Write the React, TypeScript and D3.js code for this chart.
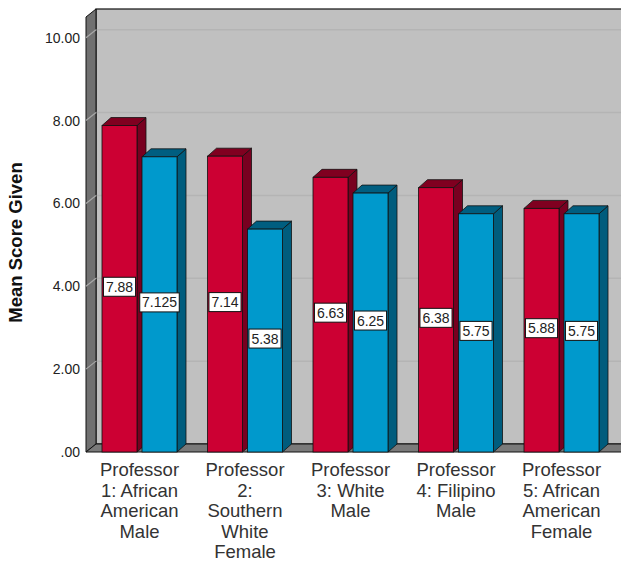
import React from 'react';
import * as d3 from 'd3';

const categories = [
  ['Professor', '1: African', 'American', 'Male'],
  ['Professor', '2:', 'Southern', 'White', 'Female'],
  ['Professor', '3: White', 'Male'],
  ['Professor', '4: Filipino', 'Male'],
  ['Professor', '5: African', 'American', 'Female'],
];
const seriesA = [7.88, 7.14, 6.63, 6.38, 5.88];
const seriesB = [7.125, 5.38, 6.25, 5.75, 5.75];
const seriesLabelsA = ['7.88', '7.14', '6.63', '6.38', '5.88'];
const seriesLabelsB = ['7.125', '5.38', '6.25', '5.75', '5.75'];
const yTicks = [0, 2, 4, 6, 8, 10];

const W = 621;
const H = 563;
const FONT = 'Arial, "Liberation Sans", sans-serif';

// 3d offsets
const WDX = 10;
const WDY = -8;
const BDX = 9;
const BDY = -8;

const colors = {
  a: { front: '#CC0033', top: '#800020', side: '#780020' },
  b: { front: '#0099CC', top: '#005E80', side: '#005C7D' },
};

export default function App() {
  const x0 = 86;
  const x1 = 613.5;
  const y = d3.scaleLinear().domain([0, 10.5]).range([452, 17]);
  const xBand = d3
    .scaleBand<number>()
    .domain(categories.map((_, i) => i))
    .range([x0, x1])
    .paddingInner(0)
    .paddingOuter(0);
  const inner = d3.scaleBand<string>().domain(['a', 'b']).range([16, 91]).paddingInner(0.125);

  const yTop = y(10.5);
  const yBase = y(0);
  const fmt = (v: number) => (v === 0 ? '.00' : d3.format('.2f')(v));

  const bars: { key: string; x: number; v: number; label: string; c: typeof colors.a }[] = [];
  categories.forEach((_, i) => {
    bars.push({ key: 'a' + i, x: (xBand(i) as number) + (inner('a') as number), v: seriesA[i], label: seriesLabelsA[i], c: colors.a });
    bars.push({ key: 'b' + i, x: (xBand(i) as number) + (inner('b') as number), v: seriesB[i], label: seriesLabelsB[i], c: colors.b });
  });
  const bw = inner.bandwidth();

  return (
    <svg width={W} height={H} style={{ position: 'absolute', left: 0, top: 0, background: '#fff' }}>
      {/* back wall */}
      <rect x={x0 + WDX} y={yTop + WDY} width={x1 - x0 + 20} height={yBase - yTop} fill="#C0C0C0" stroke="#111" strokeWidth={1.2} />
      {yTicks.filter((t) => t > 0).map((t) => (
        <line key={'g' + t} x1={x0 + WDX} x2={W} y1={y(t) + WDY} y2={y(t) + WDY} stroke="#B4B4B4" strokeWidth={1.5} />
      ))}
      {/* side wall */}
      <polygon
        points={`${x0},${yTop} ${x0 + WDX},${yTop + WDY} ${x0 + WDX},${yBase + WDY} ${x0},${yBase}`}
        fill="#707070"
        stroke="#111"
        strokeWidth={1}
      />
      {yTicks.filter((t) => t > 0).map((t) => (
        <line key={'s' + t} x1={x0} x2={x0 + WDX} y1={y(t)} y2={y(t) + WDY} stroke="#A8A8A8" strokeWidth={1.2} />
      ))}
      {/* floor */}
      <polygon
        points={`${x0},${yBase} ${x0 + WDX},${yBase + WDY} ${x1 + WDX + 20},${yBase + WDY} ${x1 + 20},${yBase}`}
        fill="#7A7A7A"
        stroke="#111"
        strokeWidth={1}
      />
      {/* bars */}
      {bars.map((b) => {
        const yt = y(b.v);
        return (
          <g key={b.key}>
            <polygon
              points={`${b.x + bw},${yt} ${b.x + bw + BDX},${yt + BDY} ${b.x + bw + BDX},${yBase + BDY} ${b.x + bw},${yBase}`}
              fill={b.c.side}
              stroke="#111"
              strokeWidth={0.8}
            />
            <polygon
              points={`${b.x},${yt} ${b.x + BDX},${yt + BDY} ${b.x + bw + BDX},${yt + BDY} ${b.x + bw},${yt}`}
              fill={b.c.top}
              stroke="#111"
              strokeWidth={0.8}
            />
            <rect x={b.x} y={yt} width={bw} height={yBase - yt} fill={b.c.front} stroke="#111" strokeWidth={0.8} />
          </g>
        );
      })}
      {/* value labels */}
      {bars.map((b) => {
        const yt = y(b.v);
        const cy = (yt + yBase) / 2 - 2;
        const tw = b.label.length * 7.4 + (b.label.includes('.') ? -3.5 : 0);
        const boxW = tw + 6;
        return (
          <g key={'l' + b.key}>
            <rect x={b.x + bw / 2 - boxW / 2} y={cy - 9.5} width={boxW} height={19} fill="#fff" stroke="#111" strokeWidth={1} />
            <text x={b.x + bw / 2} y={cy + 5} textAnchor="middle" fontFamily={FONT} fontSize={14} fill="#222">
              {b.label}
            </text>
          </g>
        );
      })}
      {/* y tick labels */}
      {yTicks.map((t) => (
        <text key={'t' + t} x={80} y={y(t) + 5} textAnchor="end" fontFamily={FONT} fontSize={14} fill="#222">
          {fmt(t)}
        </text>
      ))}
      {/* y title */}
      <text
        transform={`translate(22, ${(yTop + yBase) / 2 + 8}) rotate(-90)`}
        textAnchor="middle"
        fontFamily={FONT}
        fontSize={18.5}
        fontWeight="bold"
        fill="#111"
      >
        Mean Score Given
      </text>
      {/* category labels */}
      {categories.map((lines, i) => (
        <text key={'c' + i} textAnchor="middle" fontFamily={FONT} fontSize={18.5} fill="#333">
          {lines.map((ln, j) => (
            <tspan key={j} x={(xBand(i) as number) + 53.5} y={476 + j * 20.5}>
              {ln}
            </tspan>
          ))}
        </text>
      ))}
    </svg>
  );
}
